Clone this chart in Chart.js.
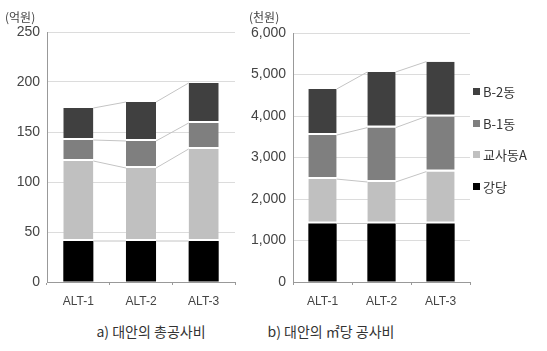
<!DOCTYPE html>
<html>
<head>
<meta charset="utf-8">
<script src="https://cdn.jsdelivr.net/npm/chart.js@4"></script>
<style>
  body { margin: 0; background: #fff; width: 547px; height: 351px; position: relative; overflow: hidden;
         font-family: "Noto Sans CJK KR", "Noto Sans", sans-serif; color: #444; }
  .box { position: absolute; }
  .txt { position: absolute; font-size: 12px; white-space: nowrap; }
  .cap { position: absolute; font-size: 14px; white-space: nowrap; transform: translateX(-50%); color: #333; }
  #legend { position: absolute; left: 473px; top: 82px; font-size: 13px; color: #333; }
  #legend div { height: 31.5px; display: flex; align-items: flex-start; }
  #legend span.sq { display: inline-block; width: 7px; height: 7px; margin: 6px 3px 0 0; }
</style>
</head>
<body>
<div class="box" style="left:0;top:0;width:245px;height:314px"><canvas id="c1"></canvas></div>
<div class="box" style="left:245px;top:0;width:235px;height:314px"><canvas id="c2"></canvas></div>
<div class="txt" style="left:5px;top:8px">(억원)</div>
<div class="txt" style="left:249px;top:8px">(천원)</div>
<div id="legend"></div>
<div class="cap" style="left:151px;top:321px">a) 대안의 총공사비</div>
<div class="cap" style="left:331px;top:321px">b) 대안의 ㎡당 공사비</div>
<script>
const categories = ['ALT-1', 'ALT-2', 'ALT-3'];
const seriesNames = ['강당', '교사동A', 'B-1동', 'B-2동'];
const seriesColors = ['#000000', '#c0c0c0', '#7f7f7f', '#404040'];

// a) 총공사비 (억원)
const totalHall = [41, 41, 41];
const totalA = [80, 73, 92];
const totalB1 = [21, 27, 26];
const totalB2 = [32, 39, 40];

// b) ㎡당 공사비 (천원)
const unitHall = [1410, 1410, 1410];
const unitA = [1070, 1000, 1250];
const unitB1 = [1060, 1310, 1330];
const unitB2 = [1110, 1340, 1320];

// connector lines between segment tops of neighbouring bars
const seriesLines = {
    id: 'seriesLines',
    afterDatasetsDraw(chart) {
        const ctx = chart.ctx;
        ctx.save();
        ctx.strokeStyle = '#c4c4c4';
        ctx.lineWidth = 1;
        chart.data.datasets.forEach((ds, i) => {
            const bars = chart.getDatasetMeta(i).data;
            for (let j = 0; j < bars.length - 1; j++) {
                const a = bars[j], b = bars[j + 1];
                ctx.beginPath();
                ctx.moveTo(a.x + a.width / 2, a.y);
                ctx.lineTo(b.x - b.width / 2, b.y);
                ctx.stroke();
            }
        });
        ctx.restore();
    }
};

function makeDatasets(values) {
    return values.map((v, i) => ({
        label: seriesNames[i],
        data: v,
        backgroundColor: seriesColors[i],
        borderColor: '#ffffff',
        borderWidth: i === 0 ? 0 : { top: 0, left: 0, right: 0, bottom: 2 },
        borderSkipped: false,
        barPercentage: 0.96,
        categoryPercentage: 0.5
    }));
}

function drawStack(id, values, max, step, yWidth, pad, useComma) {
    const ctx = document.getElementById(id).getContext('2d');
    return new Chart(ctx, {
        type: 'bar',
        data: { labels: categories, datasets: makeDatasets(values) },
        options: {
            responsive: true,
            maintainAspectRatio: false,
            animation: false,
            layout: { padding: pad },
            plugins: { legend: { display: false }, tooltip: { enabled: false } },
            scales: {
                x: {
                    stacked: true,
                    afterFit: s => { s.height = 32; },
                    grid: { drawOnChartArea: false, drawTicks: true, tickLength: 3, color: '#999' },
                    border: { color: '#999' },
                    ticks: { color: '#444', font: { family: 'Arial, Liberation Sans', size: 12 }, padding: 9 }
                },
                y: {
                    stacked: true,
                    min: 0,
                    max: max,
                    afterFit: s => { s.width = yWidth; },
                    grid: { color: '#dcdcdc', drawTicks: false },
                    border: { color: '#999' },
                    ticks: {
                        stepSize: step,
                        padding: 7,
                        color: '#444',
                        font: { family: 'Arial, Liberation Sans', size: 14 },
                        callback: v => useComma ? v.toLocaleString('en-US') : v
                    }
                }
            }
        },
        plugins: [seriesLines]
    });
}

drawStack('c1', [totalHall, totalA, totalB1, totalB2], 250, 50, 47, { top: 32, right: 10, bottom: 0, left: 0 }, false);
drawStack('c2', [unitHall, unitA, unitB1, unitB2], 6000, 1000, 48, { top: 33, right: 10, bottom: 0, left: 0 }, true);

const legend = document.getElementById('legend');
for (let i = seriesNames.length - 1; i >= 0; i--) {
    const row = document.createElement('div');
    row.innerHTML = '<span class="sq" style="background:' + seriesColors[i] + '"></span>' + seriesNames[i];
    legend.appendChild(row);
}
</script>
</body>
</html>
